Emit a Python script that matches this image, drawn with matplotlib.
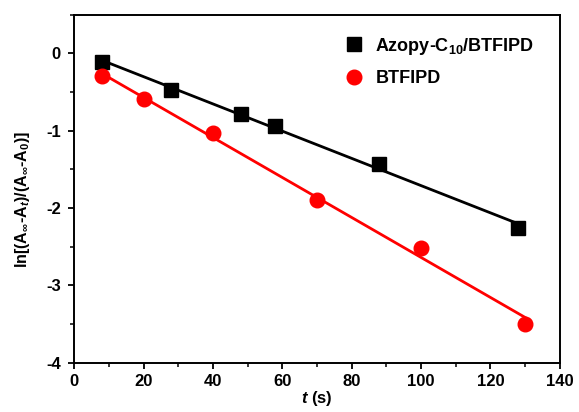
import numpy as np
import matplotlib.pyplot as plt
from matplotlib.ticker import MultipleLocator

plt.rcParams['font.family'] = ['Liberation Sans', 'DejaVu Sans']
plt.rcParams['axes.unicode_minus'] = False
plt.rcParams['mathtext.fontset'] = 'custom'
plt.rcParams['mathtext.rm'] = 'Liberation Sans:bold'
plt.rcParams['mathtext.it'] = 'Liberation Sans:bold:italic'
plt.rcParams['mathtext.bf'] = 'Liberation Sans:bold'

# kinetics data: ln[(A_inf - A_t)/(A_inf - A_0)] vs time
t_azopy = [8, 28, 48, 58, 88, 128]
y_azopy = [-0.11, -0.47, -0.785, -0.94, -1.43, -2.26]

t_btfipd = [8, 20, 40, 70, 100, 130]
y_btfipd = [-0.29, -0.59, -1.035, -1.90, -2.52, -3.50]

fig, ax = plt.subplots(figsize=(5.79, 4.12), dpi=100)
fig.subplots_adjust(left=0.128, right=0.967, top=0.964, bottom=0.120)

for t, y, color, marker, label in [
    (t_azopy, y_azopy, 'black', 's', r'Azopy-C$_{10}$/BTFIPD'),
    (t_btfipd, y_btfipd, 'red', 'o', 'BTFIPD'),
]:
    t = np.asarray(t, dtype=float)
    y = np.asarray(y, dtype=float)
    slope, intercept = np.polyfit(t, y, 1)
    ax.plot(t, y, linestyle='none', marker=marker, color=color,
            markersize=10.5, label=label, zorder=3)
    xs = np.array([t.min(), t.max()])
    ax.plot(xs, slope * xs + intercept, color=color, linewidth=2, zorder=2)

ax.set_xlim(0, 140)
ax.set_ylim(-4, 0.5)
ax.xaxis.set_major_locator(MultipleLocator(20))
ax.xaxis.set_minor_locator(MultipleLocator(10))
ax.yaxis.set_major_locator(MultipleLocator(1))
ax.yaxis.set_minor_locator(MultipleLocator(0.5))
ax.tick_params(which='major', direction='out', length=4.5, width=1.3,
               labelsize=12)
ax.tick_params(axis='x', which='major', pad=3.5)
ax.tick_params(axis='y', which='major', pad=5)
ax.tick_params(which='minor', direction='out', length=3, width=1.1)
for lab in ax.get_xticklabels() + ax.get_yticklabels():
    lab.set_fontweight('bold')
for s in ax.spines.values():
    s.set_linewidth(1.4)

ax.set_xlabel(r'$t$ (s)', fontsize=12, fontweight='bold', labelpad=0.5)
ax.set_ylabel(r'ln[(A$_{\infty}$-A$_t$)/(A$_{\infty}$-A$_0$)]',
              fontsize=11.5, fontweight='bold')
ax.yaxis.set_label_coords(-0.086, 0.47)

leg = ax.legend(loc='upper right', bbox_to_anchor=(0.99, 1.0), frameon=False,
                fontsize=13, handletextpad=0.5, borderaxespad=0.75,
                labelspacing=0.75, handlelength=1.4)
for txt in leg.get_texts():
    txt.set_fontweight('bold')

fig.savefig('out.png', dpi=100)
